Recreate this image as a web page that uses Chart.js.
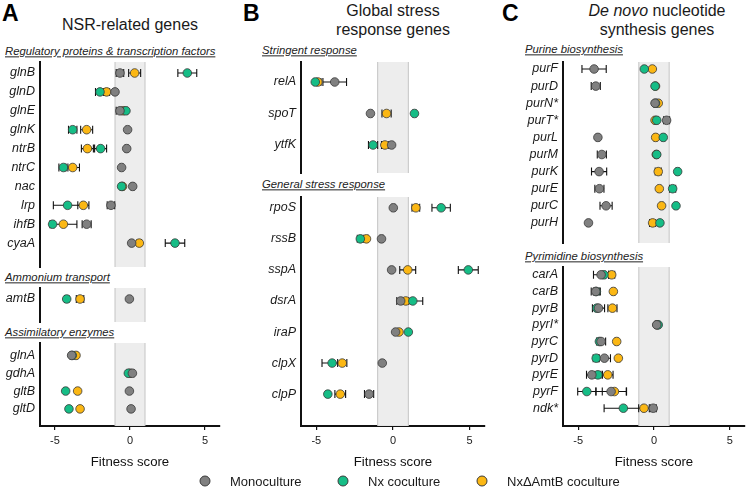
<!DOCTYPE html>
<html>
<head>
<meta charset="utf-8">
<script src="https://cdn.jsdelivr.net/npm/chart.js@4.4.0/dist/chart.umd.min.js"></script>
<style>
  body { margin: 0; width: 750px; height: 494px; background: #fff; position: relative; overflow: hidden;
         font-family: 'Liberation Sans', Arial, sans-serif; color: #1a1a1a; }
  .box { position: absolute; }
  .t { position: absolute; white-space: nowrap; line-height: 1; }
  .letter { font-weight: bold; font-size: 23px; color: #000; }
  .title { font-size: 16px; transform: translate(-50%, -50%); }
  .sec { font-size: 11.3px; font-style: italic; text-decoration: underline; color: #222; transform: translateY(-50%); }
  .leg { font-size: 13px; transform: translateY(-50%); }
  .dot { position: absolute; width: 9px; height: 9px; border-radius: 50%; border: 1px solid #3a3a3a;
         transform: translate(-50%, -50%); }
</style>
</head>
<body>

<div class="t letter" style="left:2px;top:2px">A</div>
<div class="t letter" style="left:243px;top:2px">B</div>
<div class="t letter" style="left:502px;top:2px">C</div>

<div class="t title" style="left:130px;top:25px">NSR-related genes</div>
<div class="t title" style="left:393px;top:11px">Global stress</div>
<div class="t title" style="left:393px;top:30px">response genes</div>
<div class="t title" style="left:657px;top:11px"><i>De novo</i> nucleotide</div>
<div class="t title" style="left:657px;top:30px">synthesis genes</div>

<div class="t sec" style="left:5px;top:52px">Regulatory proteins &amp; transcription factors</div>
<div class="t sec" style="left:5px;top:278px">Ammonium transport</div>
<div class="t sec" style="left:5px;top:333px">Assimilatory enzymes</div>
<div class="t sec" style="left:262px;top:51px">Stringent response</div>
<div class="t sec" style="left:262px;top:185px">General stress response</div>
<div class="t sec" style="left:525px;top:50px">Purine biosynthesis</div>
<div class="t sec" style="left:525px;top:257px">Pyrimidine biosynthesis</div>

<div class="box" id="boxA1"><canvas id="cA1"></canvas></div>
<div class="box" id="boxA2"><canvas id="cA2"></canvas></div>
<div class="box" id="boxA3"><canvas id="cA3"></canvas></div>
<div class="box" id="boxB1"><canvas id="cB1"></canvas></div>
<div class="box" id="boxB2"><canvas id="cB2"></canvas></div>
<div class="box" id="boxC1"><canvas id="cC1"></canvas></div>
<div class="box" id="boxC2"><canvas id="cC2"></canvas></div>

<div id="legend"></div>

<script>
/* ── data ───────────────────────────────────────── */
var conditions = ['Monoculture', 'Nx coculture', 'NxΔAmtB coculture'];
var xTicks = [-5, 0, 5];
var xRange = [-6, 6];
var neutralBand = [-1, 1];

// A — regulatory proteins & transcription factors
var regGenes   = ['glnB', 'glnD', 'glnE', 'glnK', 'ntrB', 'ntrC', 'nac', 'lrp', 'ihfB', 'cyaA'];
var regMono    = [-0.67, -1.0, -0.67, -0.16, -0.22, -0.56, 0.18, -1.27, -2.89, 0.11];
var regMonoErr = [0.25, 0.1, 0.25, 0.1, 0.1, 0.1, 0.1, 0.25, 0.3, 0.1];
var regNx      = [3.82, -2.0, -0.27, -3.82, -1.96, -4.44, -0.56, -4.16, -5.16, 3.0];
var regNxErr   = [0.63, 0.3, 0.1, 0.28, 0.4, 0.3, 0.1, 0.95, 0.1, 0.65];
var regAmt     = [0.31, -1.56, -0.45, -2.89, -2.84, -3.82, -0.5, -3.11, -4.44, 0.62];
var regAmtErr  = [0.4, 0.2, 0.1, 0.4, 0.4, 0.45, 0.1, 0.37, 0.9, 0.15];

// A — ammonium transport
var ammGenes   = ['amtB'];
var ammMono    = [-0.04];
var ammMonoErr = [0.1];
var ammNx      = [-4.22];
var ammNxErr   = [0.15];
var ammAmt     = [-3.33];
var ammAmtErr  = [0.25];

// A — assimilatory enzymes
var assGenes   = ['glnA', 'gdhA', 'gltB', 'gltD'];
var assMono    = [-3.89, 0.16, -0.04, 0.07];
var assMonoErr = [0.1, 0.1, 0.1, 0.1];
var assNx      = [-3.85, -0.11, -4.29, -4.07];
var assNxErr   = [0.1, 0.1, 0.1, 0.1];
var assAmt     = [-3.6, 0.0, -3.49, -3.33];
var assAmtErr  = [0.1, 0.1, 0.1, 0.1];

// B — stringent response
var strGenes   = ['relA', 'spoT', 'ytfK'];
var strMono    = [-3.8, -1.47, -0.09];
var strMonoErr = [0.77, 0.1, 0.1];
var strNx      = [-5.07, 1.4, -1.3];
var strNxErr   = [0.1, 0.1, 0.3];
var strAmt     = [-4.9, -0.42, -0.53];
var strAmtErr  = [0.2, 0.3, 0.22];

// B — general stress response
var genGenes   = ['rpoS', 'rssB', 'sspA', 'dsrA', 'iraP', 'clpX', 'clpP'];
var genMono    = [0.02, -0.75, -0.09, 0.5, 0.17, -0.7, -1.56];
var genMonoErr = [0.1, 0.1, 0.1, 0.25, 0.1, 0.1, 0.3];
var genNx      = [3.14, -2.13, 4.91, 1.29, 1.0, -3.97, -4.25];
var genNxErr   = [0.6, 0.2, 0.65, 0.65, 0.1, 0.66, 0.1];
var genAmt     = [1.49, -1.73, 0.96, 0.83, 0.39, -3.31, -3.44];
var genAmtErr  = [0.25, 0.1, 0.52, 0.2, 0.1, 0.3, 0.35];

// C — purine biosynthesis
var purGenes   = ['purF', 'purD', 'purN*', 'purT*', 'purL', 'purM', 'purK', 'purE', 'purC', 'purH'];
var purMono    = [-3.95, -3.84, 0.07, 0.83, -3.7, -3.44, -3.62, -3.6, -3.16, -4.32];
var purMonoErr = [0.8, 0.3, 0.1, 0.2, 0.1, 0.3, 0.5, 0.3, 0.4, 0.1];
var purNx      = [-0.64, 0.07, 0.1, 0.18, 0.61, 0.18, 1.56, 1.23, 1.45, 0.39];
var purNxErr   = [0.1, 0.1, 0.1, 0.1, 0.1, 0.1, 0.1, 0.2, 0.1, 0.1];
var purAmt     = [-0.11, 0.1, 0.28, 0.07, 0.11, 0.15, 0.28, 0.35, 0.5, -0.09];
var purAmtErr  = [0.1, 0.1, 0.1, 0.1, 0.1, 0.1, 0.2, 0.1, 0.1, 0.2];

// C — pyrimidine biosynthesis
var pyrGenes   = ['carA', 'carB', 'pyrB', 'pyrI*', 'pyrC', 'pyrD', 'pyrE', 'pyrF', 'ndk*'];
var pyrMono    = [-3.49, -3.84, -3.66, 0.18, -3.49, -3.27, -4.1, -2.83, -0.05];
var pyrMonoErr = [0.5, 0.3, 0.4, 0.1, 0.3, 0.4, 0.35, 1.0, 0.2];
var pyrNx      = [-3.3, -3.8, -3.77, 0.28, -3.6, -3.81, -3.7, -4.43, -2.02];
var pyrNxErr   = [0.1, 0.2, 0.1, 0.1, 0.1, 0.2, 0.2, 0.6, 1.27];
var pyrAmt     = [-2.79, -2.68, -2.74, 0.2, -2.46, -2.35, -3.05, -2.61, -0.66];
var pyrAmtErr  = [0.2, 0.1, 0.3, 0.1, 0.1, 0.1, 0.35, 0.8, 0.35];

/* ── style ──────────────────────────────────────── */
var seriesColors = ['#808080', '#16bd86', '#fbb714'];
var markerEdge = '#3a3a3a';
var PAD = 18;      // spare room above/below each plot area
var XAXIS_H = 40;  // room under the bottom plots for ticks + title

Chart.defaults.font.family = "'Liberation Sans', Arial, sans-serif";
Chart.defaults.color = '#1a1a1a';
Chart.defaults.animation = false;

/* grey neutral band + error bars, drawn under the points */
var bandAndErrors = {
  id: 'bandAndErrors',
  beforeDatasetsDraw: function (chart) {
    var ctx = chart.ctx, a = chart.chartArea, x = chart.scales.x, y = chart.scales.y;
    var b0 = x.getPixelForValue(neutralBand[0]), b1 = x.getPixelForValue(neutralBand[1]);
    ctx.save();
    ctx.fillStyle = '#ededed';
    ctx.fillRect(b0, a.top, b1 - b0, a.bottom - a.top);
    ctx.strokeStyle = '#c4c4c4';
    ctx.lineWidth = 1;
    ctx.beginPath();
    ctx.moveTo(b0, a.top); ctx.lineTo(b0, a.bottom);
    ctx.moveTo(b1, a.top); ctx.lineTo(b1, a.bottom);
    ctx.stroke();

    ctx.strokeStyle = '#111';
    ctx.lineWidth = 1.1;
    chart.data.datasets.slice().reverse().forEach(function (ds) {
      ds.data.forEach(function (p) {
        var l = x.getPixelForValue(p.x - p.e), r = x.getPixelForValue(p.x + p.e);
        var py = y.getPixelForValue(p.y);
        ctx.beginPath();
        ctx.moveTo(l, py); ctx.lineTo(r, py);
        ctx.moveTo(l, py - 4); ctx.lineTo(l, py + 4);
        ctx.moveTo(r, py - 4); ctx.lineTo(r, py + 4);
        ctx.stroke();
      });
    });
    ctx.restore();
  }
};

function series(vals, errs) {
  return vals.map(function (v, i) { return { x: v, y: i, e: errs[i] }; });
}

function makePlot(id, genes, sets, L) {
  var box = document.getElementById('box' + id);
  var h = L.bottom - L.top + PAD + (L.xAxis ? XAXIS_H : PAD);
  box.style.left = L.left + 'px';
  box.style.top = (L.top - PAD) + 'px';
  box.style.width = (L.areaRight - L.left + 10) + 'px';
  box.style.height = h + 'px';

  var yMin = -(L.first - L.top) / L.pitch;
  var yMax = (genes.length - 1) + (L.bottom - (L.first + (genes.length - 1) * L.pitch)) / L.pitch;

  new Chart(document.getElementById('c' + id), {
    type: 'scatter',
    data: {
      datasets: sets.map(function (s, k) {
        return {
          label: conditions[k],
          data: series(s[0], s[1]),
          backgroundColor: seriesColors[k],
          borderColor: markerEdge,
          borderWidth: 0.8,
          pointRadius: 4.3,
          pointHoverRadius: 4.3
        };
      })
    },
    options: {
      responsive: true,
      maintainAspectRatio: false,
      layout: { padding: { top: PAD, bottom: L.xAxis ? 0 : PAD, left: 0, right: 10 } },
      plugins: { legend: { display: false }, tooltip: { enabled: false } },
      events: [],
      scales: {
        x: {
          type: 'linear',
          min: xRange[0], max: xRange[1],
          display: !!L.xAxis,
          afterBuildTicks: function (s) { s.ticks = xTicks.map(function (v) { return { value: v }; }); },
          grid: { display: true, drawOnChartArea: false, drawTicks: true, tickLength: 4, color: '#111', lineWidth: 1.2 },
          border: { display: true, color: '#111', width: 2 },
          ticks: { font: { size: 11 }, padding: 4, color: '#1a1a1a', maxRotation: 0 },
          title: { display: true, text: 'Fitness score', font: { size: 13.2 }, padding: { top: 3, bottom: 0 }, color: '#111' }
        },
        y: {
          type: 'linear',
          reverse: true,
          min: yMin, max: yMax,
          afterFit: function (s) { s.width = L.areaLeft - L.left; },
          afterBuildTicks: function (s) { s.ticks = genes.map(function (g, i) { return { value: i }; }); },
          grid: { display: false, drawTicks: false },
          border: { display: true, color: '#111', width: 2 },
          ticks: {
            autoSkip: false,
            padding: 5,
            font: { size: 12.5, style: 'italic' },
            color: '#1a1a1a',
            callback: function (v, i) { return genes[i]; }
          }
        }
      }
    },
    plugins: [bandAndErrors]
  });
}

/* ── panels ─────────────────────────────────────── */
var A = { left: 0, areaLeft: 40, areaRight: 220 };
var B = { left: 250, areaLeft: 301, areaRight: 485 };
var C = { left: 500, areaLeft: 563, areaRight: 745 };
function lay(base, extra) { var o = {}; for (var k in base) o[k] = base[k]; for (k in extra) o[k] = extra[k]; return o; }

makePlot('A1', regGenes, [[regMono, regMonoErr], [regNx, regNxErr], [regAmt, regAmtErr]],
  lay(A, { top: 62, bottom: 267, first: 73, pitch: 18.9 }));
makePlot('A2', ammGenes, [[ammMono, ammMonoErr], [ammNx, ammNxErr], [ammAmt, ammAmtErr]],
  lay(A, { top: 288, bottom: 322, first: 299, pitch: 18.9 }));
makePlot('A3', assGenes, [[assMono, assMonoErr], [assNx, assNxErr], [assAmt, assAmtErr]],
  lay(A, { top: 343, bottom: 430, first: 356, pitch: 18.7, xAxis: true }));
makePlot('B1', strGenes, [[strMono, strMonoErr], [strNx, strNxErr], [strAmt, strAmtErr]],
  lay(B, { top: 62, bottom: 173, first: 82, pitch: 31.5 }));
makePlot('B2', genGenes, [[genMono, genMonoErr], [genNx, genNxErr], [genAmt, genAmtErr]],
  lay(B, { top: 197, bottom: 430, first: 208, pitch: 31.6, xAxis: true }));
makePlot('C1', purGenes, [[purMono, purMonoErr], [purNx, purNxErr], [purAmt, purAmtErr]],
  lay(C, { top: 62, bottom: 243, first: 69, pitch: 17.1 }));
makePlot('C2', pyrGenes, [[pyrMono, pyrMonoErr], [pyrNx, pyrNxErr], [pyrAmt, pyrAmtErr]],
  lay(C, { top: 267, bottom: 430, first: 275, pitch: 17.1, xAxis: true }));

/* ── legend ─────────────────────────────────────── */
var legendX = [205, 343, 482];
var legend = document.getElementById('legend');
conditions.forEach(function (name, k) {
  var d = document.createElement('div');
  d.className = 'dot';
  d.style.left = legendX[k] + 'px';
  d.style.top = '481px';
  d.style.background = seriesColors[k];
  legend.appendChild(d);
  var t = document.createElement('div');
  t.className = 't leg';
  t.style.left = (legendX[k] + 25) + 'px';
  t.style.top = '481px';
  t.textContent = name;
  legend.appendChild(t);
});
</script>
</body>
</html>
